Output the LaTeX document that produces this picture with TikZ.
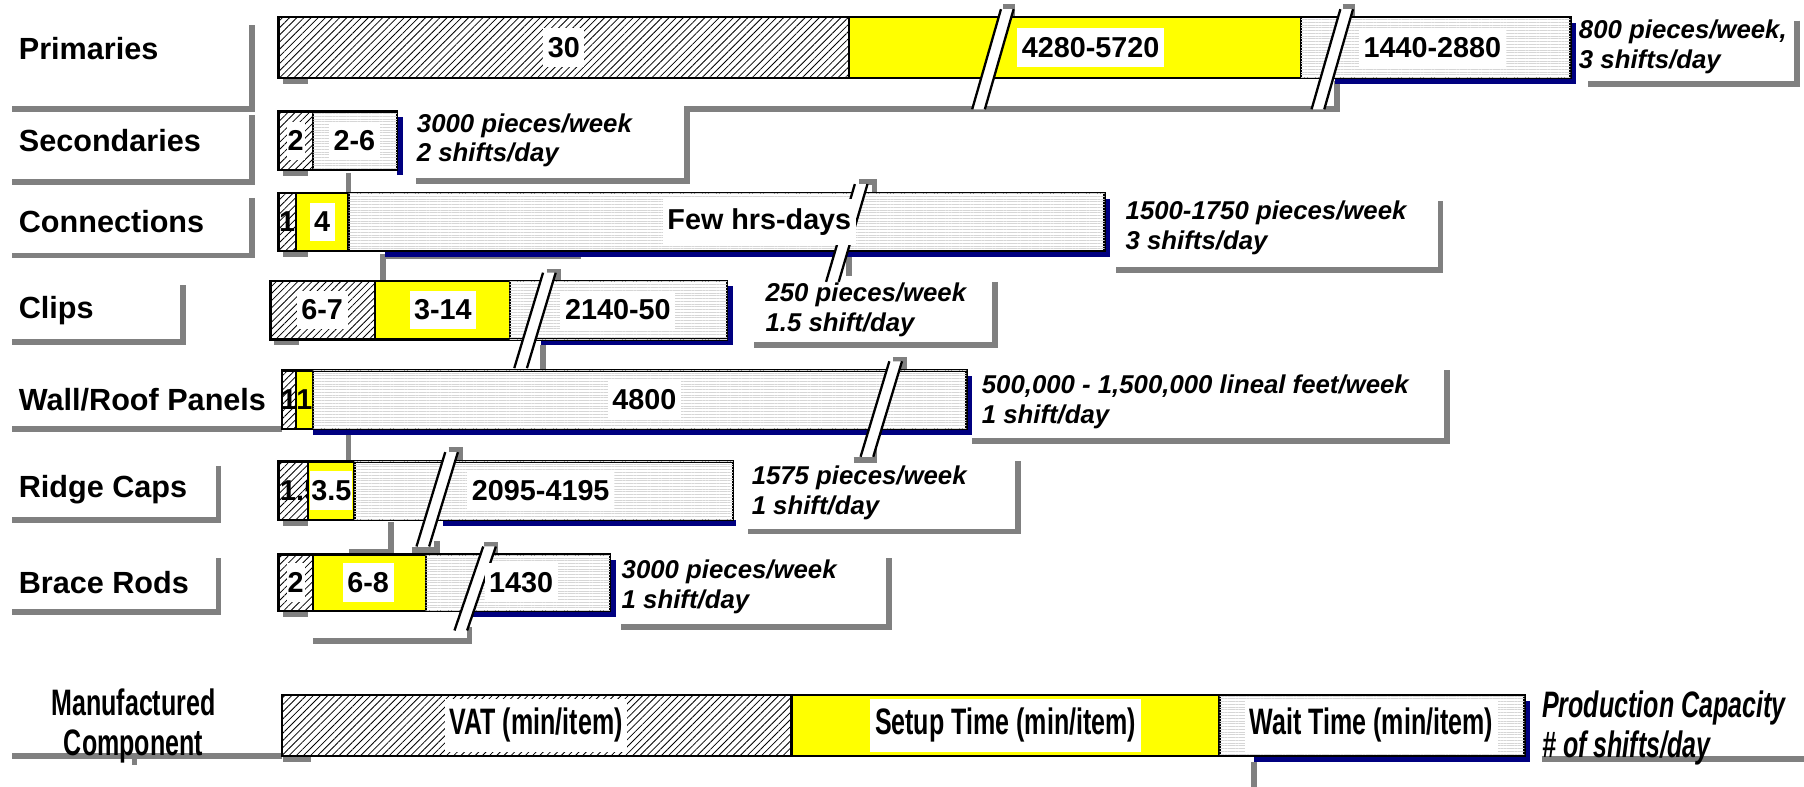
\documentclass[tikz,border=0pt]{standalone}
\usepackage{fontspec}
\setmainfont{Liberation Sans}
\newfontfamily\narrowfont[FakeStretch=0.68]{Liberation Sans}
\usetikzlibrary{patterns.meta}

\definecolor{barnavy}{RGB}{0,0,128}
\definecolor{shadegray}{RGB}{128,128,128}
\definecolor{setupyellow}{RGB}{255,255,0}

\tikzstyle{rowlabel} = [anchor=west, inner sep=0pt, font=\bfseries\fontsize{13.3}{16}\selectfont]
\tikzstyle{valbox} = [fill=white, inner xsep=2pt, inner ysep=4pt, font=\bfseries\fontsize{12.5}{14}\selectfont]
\tikzstyle{legendval} = [fill=white, inner xsep=2pt, inner ysep=4pt, font=\narrowfont\bfseries\fontsize{16}{18}\selectfont]
\tikzstyle{capbox} = [anchor=west, inner sep=0pt, align=left, font=\bfseries\itshape\fontsize{11.2}{13}\selectfont]
\tikzstyle{vatseg} = [draw=black, line width=1pt, pattern={Lines[angle=45,distance=2.2pt,line width=0.35pt]}]
\tikzstyle{setupseg} = [draw=black, line width=1pt, fill=setupyellow]
\tikzstyle{waitseg} = [draw=black, line width=1pt, fill=white, postaction={pattern={Lines[angle=0,distance=1.2pt,line width=0.15pt]}, pattern color=gray!32}]
\tikzstyle{grayshade} = [draw=shadegray, line width=2.5pt]
\tikzstyle{navyshade} = [fill=barnavy]
\tikzstyle{breakline} = [draw=black, line width=1pt]

% slanted break mark: x of lower left end, y bottom, y top
\newcommand{\barbreak}[3]{%
  \fill[white] (#1,#2) -- (#1+25,#3) -- (#1+36,#3) -- (#1+11,#2) -- cycle;
  \draw[breakline] (#1,#2) -- (#1+25,#3) (#1+11,#2) -- (#1+36,#3);}

\begin{document}
\begin{tikzpicture}[x=0.5pt, y=-0.5pt]
	\useasboundingbox (0,0) rectangle (1568,684);

	% gray shadow lines of the label and capacity boxes
	\draw [grayshade] (219,22) -- (219,95) -- (10,95);
	\draw [grayshade] (219,100) -- (219,158) -- (10,158);
	\draw [grayshade] (219,172) -- (219,222) -- (10,222);
	\draw [grayshade] (159,248) -- (159,297) -- (10,297);
	\draw [grayshade] (245,373) -- (10,373);
	\draw [grayshade] (190,405) -- (190,452) -- (10,452);
	\draw [grayshade] (190,485) -- (190,532) -- (10,532);
	\draw [grayshade] (245,657) -- (10,657);
	\draw [grayshade] (117,657) -- (117,665);

	\draw [grayshade] (1562,18) -- (1562,73) -- (1380,73);
	\draw [grayshade] (362,157) -- (597,157) -- (597,95) -- (1162,95) -- (1162,70);
	\draw [grayshade] (1252,175) -- (1252,235) -- (970,235);
	\draw [grayshade] (865,245) -- (865,300) -- (655,300);
	\draw [grayshade] (1258,322) -- (1258,383) -- (845,383);
	\draw [grayshade] (885,401) -- (885,462) -- (650,462);
	\draw [grayshade] (773,485) -- (773,545) -- (540,545);
	\draw [grayshade] (1340,660) -- (1568,660);
	\draw [grayshade] (1090,662) -- (1090,684);

	% gray links between the bars
	\draw [grayshade] (303,150) -- (303,168);
	\draw [grayshade] (333,244) -- (333,223) -- (505,223);
	\draw [grayshade] (472,300) -- (472,322);
	\draw [grayshade] (303,375) -- (303,401);
	\draw [grayshade] (340,454) -- (340,480) -- (303,480);
	\draw [grayshade] (272,557) -- (408,557) -- (408,545);

	% small gray corners at the breaks
	\draw [grayshade] (872,6) -- (880,6) -- (880,15);
	\draw [grayshade] (1167,6) -- (1175,6) -- (1175,15);
	\draw [grayshade] (747,158) -- (760,158) -- (760,168);
	\draw [grayshade] (738,222) -- (738,240);
	\draw [grayshade] (475,236) -- (485,236) -- (485,244);
	\draw [grayshade] (776,313) -- (786,313) -- (786,322);
	\draw [grayshade] (742,400) -- (760,400) -- (760,390);
	\draw [grayshade] (390,391) -- (400,391) -- (400,401);
	\draw [grayshade] (358,478) -- (380,478) -- (380,470);
	\draw [grayshade] (421,474) -- (430,474) -- (430,482);

	% gray bits under the left end of each bar
	\fill [shadegray] (246,68) rectangle (268,73);
	\fill [shadegray] (246,148) rectangle (268,153);
	\fill [shadegray] (246,218) rectangle (268,223);
	\fill [shadegray] (238,295) rectangle (260,300);
	\fill [shadegray] (246,452) rectangle (268,457);
	\fill [shadegray] (246,531) rectangle (268,536);
	\fill [shadegray] (246,657) rectangle (270,662);

	% navy shadows
	\fill [navyshade] (1160,68) rectangle (1370,73);
	\fill [navyshade] (1365,20) rectangle (1370,73);
	\fill [navyshade] (345,102) rectangle (350,152);
	\fill [navyshade] (335,218) rectangle (965,223);
	\fill [navyshade] (960,173) rectangle (965,223);
	\fill [navyshade] (470,295) rectangle (637,300);
	\fill [navyshade] (632,249) rectangle (637,300);
	\fill [navyshade] (272,373) rectangle (845,378);
	\fill [navyshade] (840,327) rectangle (845,378);
	\fill [navyshade] (385,452) rectangle (640,457);
	\fill [navyshade] (410,531) rectangle (535,536);
	\fill [navyshade] (530,487) rectangle (535,536);
	\fill [navyshade] (1090,657) rectangle (1330,662);
	\fill [navyshade] (1325,609) rectangle (1330,662);

	% bars
	\draw [vatseg] (242,15) rectangle (738,68);
	\draw [setupseg] (738,15) rectangle (1131,68);
	\draw [waitseg] (1131,15) rectangle (1365,68);

	\draw [vatseg] (242,97) rectangle (272,148);
	\draw [waitseg] (272,97) rectangle (345,148);

	\draw [vatseg] (242,168) rectangle (257,218);
	\draw [setupseg] (257,168) rectangle (303,218);
	\draw [waitseg] (303,168) rectangle (960,218);

	\draw [vatseg] (235,244) rectangle (326,295);
	\draw [setupseg] (326,244) rectangle (443,295);
	\draw [waitseg] (443,244) rectangle (632,295);

	\draw [vatseg] (245,322) rectangle (257,373);
	\draw [setupseg] (257,322) rectangle (272,373);
	\draw [waitseg] (272,322) rectangle (840,373);

	\draw [vatseg] (242,401) rectangle (268,452);
	\draw [setupseg] (268,401) rectangle (308,452);
	\draw [waitseg] (308,401) rectangle (637,452);

	\draw [vatseg] (242,482) rectangle (272,531);
	\draw [setupseg] (272,482) rectangle (370,531);
	\draw [waitseg] (370,482) rectangle (530,531);

	\draw [vatseg] (245,604) rectangle (688,657);
	\draw [setupseg] (688,604) rectangle (1060,657);
	\draw [waitseg] (1060,604) rectangle (1325,657);

	% breaks
	\barbreak{845}{95}{8}
	\barbreak{1140}{95}{8}
	\barbreak{718}{245}{160}
	\barbreak{447}{320}{237}
	\barbreak{748}{397}{314}
	\barbreak{362}{475}{393}
	\barbreak{395}{548}{475}

	% row labels
	\node (primaries) [rowlabel] at (16,42) {Primaries};
	\node (secondaries) [rowlabel] at (16,122) {Secondaries};
	\node (connections) [rowlabel] at (16,193) {Connections};
	\node (clips) [rowlabel] at (16,270) {Clips};
	\node (panels) [rowlabel] at (16,347) {Wall/Roof Panels};
	\node (ridgecaps) [rowlabel] at (16,426) {Ridge Caps};
	\node (bracerods) [rowlabel] at (16,506) {Brace Rods};
	\node (component) [align=center, inner sep=0pt, font=\narrowfont\bfseries\fontsize{16}{17.5}\selectfont] at (116,631) {Manufactured\\Component};

	% times
	\node (prim vat) [valbox] at (490,41.5) {30};
	\node (prim setup) [valbox] at (948,41.5) {4280-5720};
	\node (prim wait) [valbox] at (1245,41.5) {1440-2880};
	\node (sec vat) [valbox, inner xsep=0.5pt] at (257,122.5) {2};
	\node (sec wait) [valbox] at (308,122.5) {2-6};
	\node (con vat) [valbox, fill=none, inner sep=0pt] at (249.5,193) {1};
	\node (con setup) [valbox] at (280,193) {4};
	\node (con wait) [valbox] at (660,193) {Few hrs-days};
	\node (clip vat) [valbox] at (280,269.5) {6-7};
	\node (clip setup) [valbox] at (385,269.5) {3-14};
	\node (clip wait) [valbox] at (537,269.5) {2140-50};
	\node (pan vat) [valbox, fill=none, inner sep=0pt] at (251,347.5) {1};
	\node (pan setup) [valbox, fill=none, inner sep=0pt] at (264.5,347.5) {1};
	\node (pan wait) [valbox] at (560,347.5) {4800};
	\begin{scope}
		\clip (242,401) rectangle (268,452);
		\node (ridge vat) [valbox, fill=none, inner sep=0pt, anchor=west] at (243,426.5) {1.5};
	\end{scope}
	\node (ridge setup) [valbox, inner xsep=0.5pt] at (288,426.5) {3.5};
	\node (ridge wait) [valbox] at (470,426.5) {2095-4195};
	\node (brace vat) [valbox, inner xsep=0.5pt] at (257,506.5) {2};
	\node (brace setup) [valbox] at (320,506.5) {6-8};
	\node (brace wait) [valbox] at (453,506.5) {1430};
	\node (leg vat) [legendval] at (466,630.5) {VAT (min/item)};
	\node (leg setup) [legendval] at (874,630.5) {Setup Time (min/item)};
	\node (leg wait) [legendval] at (1192,630.5) {Wait Time (min/item)};

	% production capacity
	\node (prim cap) [capbox] at (1372,41) {800 pieces/week,\\3 shifts/day};
	\node (sec cap) [capbox] at (362,122) {3000 pieces/week\\2 shifts/day};
	\node (con cap) [capbox] at (978,198) {1500-1750 pieces/week\\3 shifts/day};
	\node (clip cap) [capbox] at (665,269) {250 pieces/week\\1.5 shift/day};
	\node (pan cap) [capbox] at (853,349) {500,000 - 1,500,000 lineal feet/week\\1 shift/day};
	\node (ridge cap) [capbox] at (653,428) {1575 pieces/week\\1 shift/day};
	\node (brace cap) [capbox] at (540,510) {3000 pieces/week\\1 shift/day};
	\node (leg cap) [capbox, font=\narrowfont\bfseries\itshape\fontsize{16}{17.5}\selectfont] at (1340,633) {Production Capacity\\\# of shifts/day};
\end{tikzpicture}
\end{document}
